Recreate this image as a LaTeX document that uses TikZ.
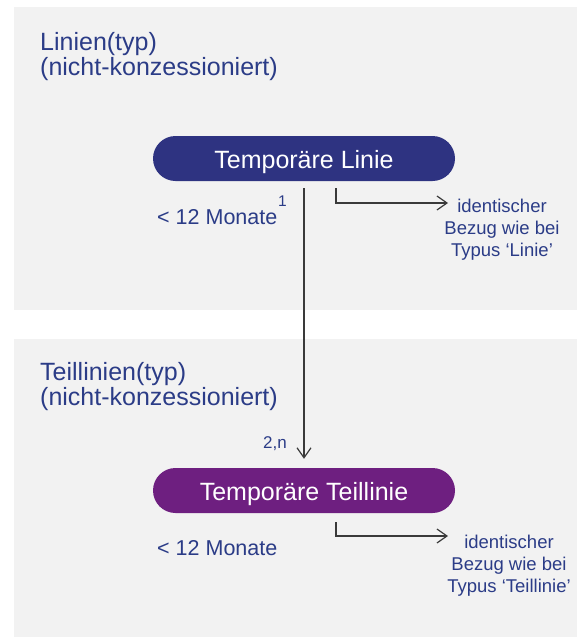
\documentclass[tikz,border=0pt]{standalone}
\usepackage{fontspec}
\setmainfont{Liberation Sans}
\usetikzlibrary{arrows.meta,calc}
\definecolor{txt}{HTML}{2B3C87}
\definecolor{nodeA}{HTML}{2E3381}
\definecolor{nodeB}{HTML}{6E1F80}
\definecolor{panel}{HTML}{F2F2F2}
\definecolor{ln}{HTML}{3A3A3A}
\begin{document}
\begin{tikzpicture}[x=1pt,y=-1pt,
  pill/.style={rounded corners=22.5pt, minimum width=302pt, minimum height=45pt, inner sep=0pt, text height=20pt, text depth=0pt, text=white, font=\fontsize{25}{25}\selectfont},
  lbl/.style={text=txt, inner sep=0pt},
  title/.style={lbl, anchor=base west, align=left, font=\fontsize{25}{25}\selectfont},
  note/.style={lbl, anchor=base, align=center, font=\fontsize{18.5}{22}\selectfont},
  conn/.style={draw=ln, line width=1.2pt, -{Straight Barb[length=10pt,width=14pt,line width=1.2pt]}}]
\useasboundingbox (0,0) rectangle (577,637);
\fill[white] (0,0) rectangle (577,637);
\fill[panel] (14,7) rectangle (577,310);
\fill[panel] (14,339) rectangle (577,637);
\node[title] (t1) at (40,75) {Linien(typ)\\(nicht-konzessioniert)};
\node[title] (t2) at (40,405) {Teillinien(typ)\\(nicht-konzessioniert)};
\node[pill, fill=nodeA] (n1) at (304,158.5) {Temporäre Linie};
\node[pill, fill=nodeB] (n2) at (304,490.5) {Temporäre Teillinie};
\draw[conn, shorten <=7pt, shorten >=9pt] (n1) -- (n2);
\node[lbl, anchor=base west, font=\fontsize{21.5}{24}\selectfont] (m1) at (157,224) {< 12 Monate};
\node[lbl, anchor=base west, font=\fontsize{15.5}{18}\selectfont] (s1) at (278,206) {1};
\node[lbl, anchor=base west, font=\fontsize{17}{20}\selectfont] (s2) at (263,448) {2,n};
\node[lbl, anchor=base west, font=\fontsize{21.5}{24}\selectfont] (m2) at (157,555) {< 12 Monate};
\node[note] (i1) at (502,256) {identischer\\Bezug wie bei\\Typus ‘Linie’};
\node[note] (i2) at (509,592) {identischer\\Bezug wie bei\\Typus ‘Teillinie’};
\coordinate (e1) at (448,203);
\coordinate (e2) at (448,536);
\draw[conn] ($(n1.south)+(32,7)$) |- (e1);
\draw[conn] ($(n2.south)+(32,9)$) |- (e2);
\end{tikzpicture}
\end{document}
